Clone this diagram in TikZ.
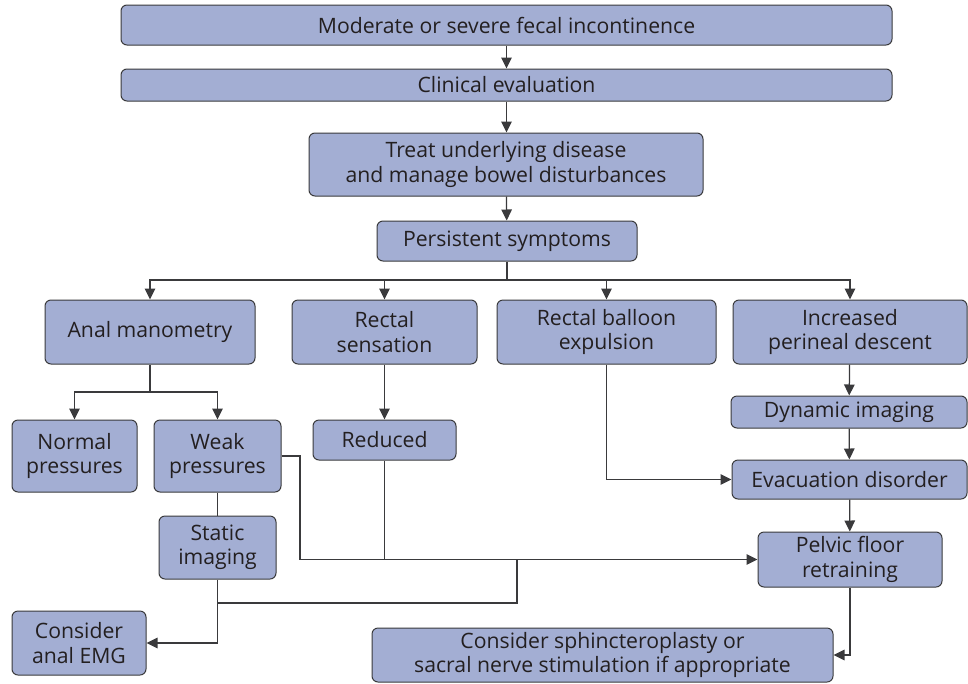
\documentclass[tikz,border=0pt]{standalone}
\usepackage{fontspec}
\setmainfont{Open Sans}
\usetikzlibrary{arrows.meta}
\definecolor{boxfill}{HTML}{A3AED3}
\definecolor{edge}{HTML}{3A3A3C}
\definecolor{ink}{HTML}{231F20}
\tikzset{
  box/.style={draw=edge, fill=boxfill, line width=1pt, rounded corners=6pt,
    inner sep=0pt, align=center, text=ink,
    font=\fontsize{21.2}{24.3}\selectfont},
  link/.style={draw=edge, line width=1.25pt},
  arr/.style={link, -{Triangle[length=11pt,width=10.5pt]}},
}
% box from its corners (x1,y1)-(x2,y2), in pixel units, y downwards
\newcommand\flowbox[6]{%
  \node[box, minimum width={#4pt-#2pt}, minimum height={#5pt-#3pt}]
    (#1) at ({(#2+#4)/2},{(#3+#5)/2}) {#6};}
\begin{document}
\begin{tikzpicture}[x=1pt,y=-1pt]
\useasboundingbox (0,0) rectangle (968,683);
\flowbox{top}{121}{5}{892}{45}{Moderate or severe fecal incontinence}
\flowbox{clin}{121}{69}{892}{101}{Clinical evaluation}
\flowbox{treat}{309}{133}{703}{196}{Treat underlying disease\\and manage bowel disturbances}
\flowbox{pers}{377}{221}{637}{261}{Persistent symptoms}
\flowbox{anal}{45}{300}{255}{364}{Anal manometry}
\flowbox{rsens}{292}{300}{477}{364}{Rectal\\sensation}
\flowbox{rball}{497}{300}{716}{364}{Rectal balloon\\expulsion}
\flowbox{incr}{733}{300}{967}{364}{Increased\\perineal descent}
\flowbox{norm}{12}{420}{137}{492}{Normal\\pressures}
\flowbox{weak}{154}{420}{281}{492}{Weak\\pressures}
\flowbox{red}{313}{420}{456}{460}{Reduced}
\flowbox{dyn}{731}{396}{967}{428}{Dynamic imaging}
\flowbox{evac}{732}{460}{967}{499}{Evacuation disorder}
\flowbox{stat}{159}{516}{276}{579}{Static\\imaging}
\flowbox{pelv}{758}{532}{942}{587}{Pelvic floor\\retraining}
\flowbox{emg}{12}{611}{146}{675}{Consider\\anal EMG}
\flowbox{sph}{372}{628}{833}{682}{Consider sphincteroplasty or\\sacral nerve stimulation if appropriate}

% junction points of the connectors
\coordinate (bus) at (507,280);
\coordinate (ab) at (150,392);
\coordinate (wk1) at (300,456);
\coordinate (wk2) at (300,559.5);
\coordinate (rj) at (384.5,559.5);
\coordinate (sj) at (217.5,603);
\coordinate (sj2) at (517,603);
\coordinate (sj3) at (517,559.5);

\draw[arr] (top) -- (clin);
\draw[arr] (clin.south -| top) -- (treat.north -| top);
\draw[arr] (treat) -- (pers);
\draw[link] (pers) -- (bus);
\draw[arr] (bus) -| (anal);
\draw[arr] (bus) -| (rsens);
\draw[arr] (bus) -| (rball);
\draw[arr] (bus) -| (incr);

\draw[link] (anal) -- (ab);
\draw[arr] (ab) -| (norm);
\draw[arr] (ab) -| (weak);
\draw[arr] (rsens) -- (red);

\draw[link] (weak) -- (stat);
\draw[arr] (weak.east) -- (wk1) -- (wk2) -- (pelv);
\draw[link] (red) -- (rj);
\draw[link] (stat) -- (sj) -- (sj2) -- (sj3);
\draw[arr] (sj) |- (emg);

\draw[arr] (rball) |- (evac);
\draw[arr] (incr) -- (dyn);
\draw[arr] (dyn) -- (evac);
\draw[arr] (evac) -- (pelv);
\draw[arr] (pelv) |- (sph);
\end{tikzpicture}
\end{document}
